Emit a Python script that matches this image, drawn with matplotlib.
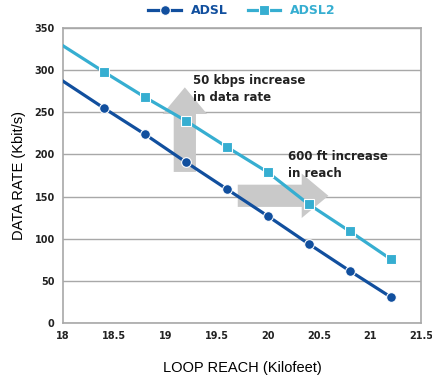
import matplotlib
matplotlib.use("Agg")
import matplotlib.pyplot as plt
from matplotlib.patches import FancyArrowPatch

# values
reach = [18, 18.4, 18.8, 19.2, 19.6, 20.0, 20.4, 20.8, 21.2]
adsl = [287, 255, 224, 191, 159, 127, 94, 62, 31]
adsl2 = [329, 298, 268, 240, 209, 179, 141, 109, 76]
xticks = [18, 18.5, 19, 19.5, 20, 20.5, 21, 21.5]
yticks = [0, 50, 100, 150, 200, 250, 300, 350]

dark = "#114f9e"
light = "#36aed1"
grey = "#a8a8a8"

fig = plt.figure(figsize=(4.32, 3.8), dpi=100)
ax = fig.add_axes([0.146, 0.15, 0.829, 0.776])

# grey arrows behind the lines
style = "simple,head_width=2.0,head_length=1.2,tail_width=1.0"
up = FancyArrowPatch((19.19, 176), (19.19, 283), arrowstyle=style,
                     mutation_scale=16, color="#c9c9c9", lw=0, zorder=1)
right = FancyArrowPatch((19.68, 151), (20.62, 151), arrowstyle=style,
                        mutation_scale=16, color="#c9c9c9", lw=0, zorder=1)
ax.add_patch(up)
ax.add_patch(right)

ax.plot(reach, adsl, color=dark, lw=2.3, marker="o", ms=7, mec="white", mew=0.8,
        markevery=list(range(1, len(reach))), label="ADSL", zorder=3)
ax.plot(reach, adsl2, color=light, lw=2.3, marker="s", ms=6.5, mec="white", mew=0.8,
        markevery=list(range(1, len(reach))), label="ADSL2", zorder=3)

ax.text(19.27, 295, "50 kbps increase\nin data rate", fontsize=8.5, fontweight="bold",
        color="#222222", va="top", ha="left", linespacing=1.35, zorder=4)
ax.text(20.20, 205, "600 ft increase\nin reach", fontsize=8.5, fontweight="bold",
        color="#222222", va="top", ha="left", linespacing=1.35, zorder=4)

ax.set_xlim(18, 21.5)
ax.set_ylim(0, 350)
ax.set_xticks(xticks)
ax.set_xticklabels([f"{t:g}" for t in xticks])
ax.set_yticks(yticks)
ax.tick_params(length=0, labelsize=7, colors="#222222", pad=6)
for lab in ax.get_xticklabels() + ax.get_yticklabels():
    lab.set_fontweight("bold")
ax.grid(axis="y", color=grey, lw=1)
ax.set_axisbelow(True)
for s in ax.spines.values():
    s.set_color(grey)
    s.set_linewidth(1.2)

ax.set_xlabel("LOOP REACH (Kilofeet)", family="Liberation Sans", fontsize=10.5, labelpad=14)
ax.set_ylabel("DATA RATE (Kbit/s)", family="Liberation Sans", fontsize=10.5, labelpad=6)

leg = ax.legend(loc="lower center", bbox_to_anchor=(0.5, 1.02), ncol=2, frameon=False,
                fontsize=9, handlelength=2.6, columnspacing=1.6, borderaxespad=0)
for txt, c in zip(leg.get_texts(), [dark, light]):
    txt.set_color(c)
    txt.set_fontweight("bold")

fig.savefig("out.png", dpi=100)
